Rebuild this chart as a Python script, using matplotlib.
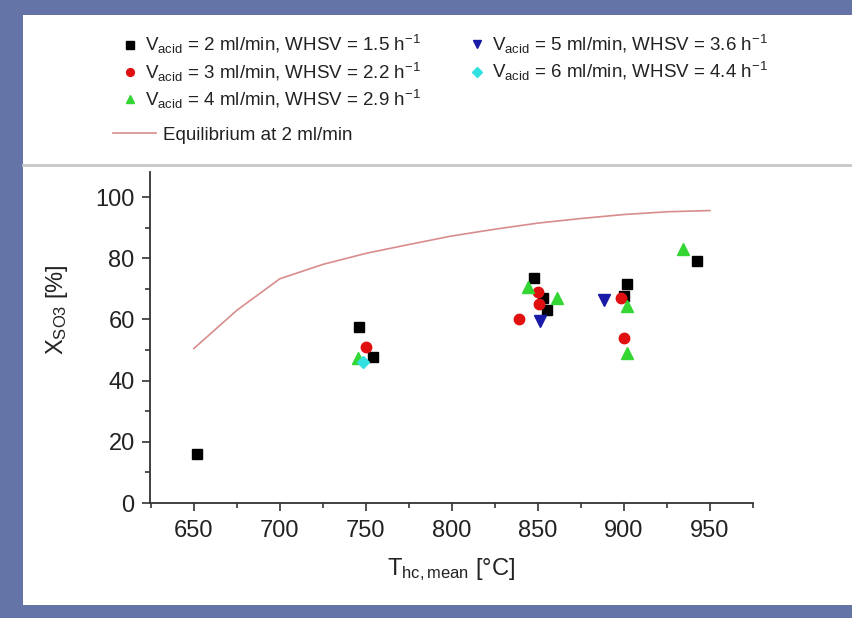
import matplotlib
matplotlib.use('Agg')
import matplotlib.pyplot as plt
from matplotlib.patches import Rectangle
from matplotlib.lines import Line2D
from matplotlib.ticker import MultipleLocator

plt.rcParams['font.family'] = ['Liberation Sans', 'DejaVu Sans']
plt.rcParams['mathtext.fontset'] = 'custom'
plt.rcParams['mathtext.rm'] = 'Liberation Sans'
plt.rcParams['mathtext.it'] = 'Liberation Sans'

# measured points, T_hc,mean [°C] vs X_SO3 [%]
t_2ml = [651.6, 746.1, 754.3, 847.7, 852.7, 855.0, 900.0, 901.6, 942.3]
x_2ml = [16.0, 57.6, 47.8, 73.4, 66.9, 63.1, 67.8, 71.5, 79.2]
t_3ml = [749.8, 839.1, 850.2, 850.8, 898.0, 900.0]
x_3ml = [50.9, 60.1, 69.1, 65.0, 66.9, 54.1]
t_4ml = [745.5, 844.4, 860.9, 901.6, 901.6, 934.5]
x_4ml = [47.3, 70.7, 66.9, 64.5, 49.1, 82.9]
t_5ml = [851.2, 888.6]
x_5ml = [59.6, 66.3]
t_6ml = [748.4]
x_6ml = [46.2]

# equilibrium curve at 2 ml/min
t_eq = [650, 675, 700, 725, 750, 775, 800, 825, 850, 875, 900, 925, 950]
x_eq = [50.5, 63.0, 73.3, 78.0, 81.6, 84.5, 87.3, 89.5, 91.5, 93.0, 94.3, 95.2, 95.6]

labels = [r'V$_{\mathrm{acid}}$ = 2 ml/min, WHSV = 1.5 h$^{\mathrm{-1}}$',
          r'V$_{\mathrm{acid}}$ = 3 ml/min, WHSV = 2.2 h$^{\mathrm{-1}}$',
          r'V$_{\mathrm{acid}}$ = 4 ml/min, WHSV = 2.9 h$^{\mathrm{-1}}$',
          r'V$_{\mathrm{acid}}$ = 5 ml/min, WHSV = 3.6 h$^{\mathrm{-1}}$',
          r'V$_{\mathrm{acid}}$ = 6 ml/min, WHSV = 4.4 h$^{\mathrm{-1}}$',
          'Equilibrium at 2 ml/min']

W, H = 853, 618
fig = plt.figure(figsize=(W / 100, H / 100), dpi=100)
fig.patch.set_facecolor('#6474a6')

# white slide panel + separator below the legend
fig.patches.append(Rectangle((23 / W, 1 - 605 / H), 1 - 23 / W, (605 - 15) / H,
                             transform=fig.transFigure, facecolor='white',
                             edgecolor='none', zorder=-10))
fig.lines.append(Line2D([23 / W, 1], [1 - 165 / H, 1 - 165 / H],
                        transform=fig.transFigure, color='#c8c8c8', lw=2, zorder=-5))

ax = fig.add_axes([150 / W, 1 - 503 / H, (753 - 150) / W, (503 - 172) / H])
ax.set_facecolor('none')
ax.set_zorder(1)

ms = 7
h_eq, = ax.plot(t_eq, x_eq, color='#d98c8c', lw=1.2, label=labels[5])
h1, = ax.plot(t_2ml, x_2ml, 's', color='black', ms=ms, ls='none', label=labels[0])
h2, = ax.plot(t_3ml, x_3ml, 'o', color='#e01010', ms=ms + 0.5, ls='none', label=labels[1])
h3, = ax.plot(t_4ml, x_4ml, '^', color='#33d633', ms=ms + 1, ls='none', label=labels[2])
h4, = ax.plot(t_5ml, x_5ml, 'v', color='#1a1aa8', ms=ms + 1, ls='none', label=labels[3])
h5, = ax.plot(t_6ml, x_6ml, 'D', color='#33e0e0', ms=ms - 0.5, ls='none', label=labels[4])

ax.set_xlim(624.5, 975)
ax.set_ylim(0, 108.2)
ax.xaxis.set_major_locator(MultipleLocator(50))
ax.xaxis.set_minor_locator(MultipleLocator(25))
ax.yaxis.set_major_locator(MultipleLocator(20))
ax.yaxis.set_minor_locator(MultipleLocator(10))
ax.set_xticks([650, 700, 750, 800, 850, 900, 950])

for s in ['top', 'right']:
    ax.spines[s].set_visible(False)
for s in ['left', 'bottom']:
    ax.spines[s].set_color('#333333')
    ax.spines[s].set_linewidth(1.3)
ax.tick_params(which='major', direction='out', length=6, width=1.2, color='#333333',
               labelsize=17, labelcolor='#222222')
ax.tick_params(which='minor', direction='out', length=3.5, width=1.2, color='#333333')
ax.tick_params(axis='x', pad=6.5)
ax.tick_params(axis='y', pad=5)

ax.set_xlabel(r'T$_{\mathrm{hc,mean}}$ [°C]', fontsize=17, color='#222222', labelpad=10)
ax.set_ylabel(r'X$_{\mathrm{SO3}}$ [%]', fontsize=17, color='#222222')
ax.yaxis.set_label_coords(-0.132, 0.585)

# legend: markers in two columns, equilibrium line on its own row
fs = 13.5
leg_kw = dict(frameon=False, fontsize=fs, labelcolor='#222222', markerscale=0.75,
              borderpad=0.4)
fig.legend([h1, h2, h3], labels[:3], loc='center left',
           bbox_to_anchor=(104 / W, 1 - 72 / H), handlelength=1.0,
           handletextpad=0.3, labelspacing=0.22, **leg_kw)
fig.legend([h4, h5], labels[3:5], loc='center left',
           bbox_to_anchor=(451 / W, 1 - 58 / H), handlelength=1.0,
           handletextpad=0.3, labelspacing=0.22, **leg_kw)
fig.legend([h_eq], [labels[5]], loc='center left',
           bbox_to_anchor=(96 / W, 1 - 135 / H), handlelength=2.3,
           handletextpad=0.35, **leg_kw)

fig.savefig('out.png', dpi=100, facecolor=fig.get_facecolor())
